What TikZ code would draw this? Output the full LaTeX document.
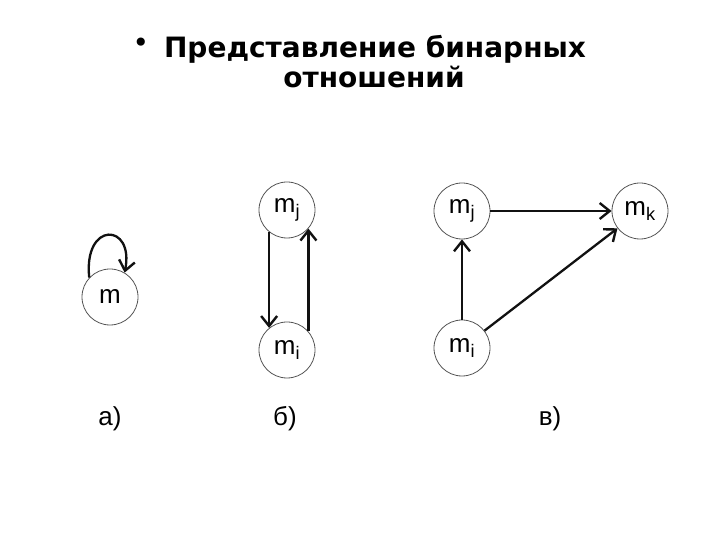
\documentclass[tikz,border=0pt]{standalone}
\usepackage{fontspec}
\setmainfont{Liberation Sans}
\newfontfamily\titlefont{DejaVu Sans}
\usetikzlibrary{arrows.meta,positioning}
\definecolor{ink}{HTML}{111111}
\definecolor{rim}{HTML}{555555}

\begin{document}
\begin{tikzpicture}[x=1pt,y=1pt,vertex/.style={circle,draw=rim,line width=.8pt,minimum size=56pt,inner sep=0pt,font=\fontsize{26}{28}\selectfont},arrow/.style={-{Straight Barb[length=10pt,width=16pt,line width=2.4pt]},line width=2.3pt,ink},tag/.style={font=\fontsize{26}{28}\selectfont},head/.style={font=\titlefont\bfseries\fontsize{28}{30}\selectfont,anchor=base}]
 \useasboundingbox (0,0) rectangle (720,540);
 % title
 \node[head] (title) at (375,482) {Представление бинарных};
 \node[head] (title2) at (374,452) {отношений};
 \node[head,font=\titlefont\fontsize{28}{30}\selectfont] (dot) at (141,487) {•};
 % a) loop
 \node[vertex] (m) at (110,243) {m};
 \draw[arrow] (m.137) .. controls +(-6,57) and +(10,50) .. (m.59);
 % b) symmetric pair
 \node[vertex] (bj) at (287,330) {m\textsubscript{j}};
 \node[vertex] (bi) at (287,190) {m\textsubscript{i}};
 \draw[arrow] (bj.231) -- (bi.129);
 \draw[arrow] (bi.41) -- (bj.-41);
 % c) transitive triple
 \node[vertex] (cj) at (462,329) {m\textsubscript{j}};
 \node[vertex] (ck) at (640,329) {m\textsubscript{k}};
 \node[vertex] (ci) at (462,192) {m\textsubscript{i}};
 \draw[arrow] (cj)--(ck); \draw[arrow] (ci)--(cj); \draw[arrow] (ci)--(ck);
 % captions
 \node[tag] (ta) at (110,121) {а)};
 \node[tag] (tb) at (285,121) {б)};
 \node[tag] (tc) at (550,121) {в)};
\end{tikzpicture}
\end{document}
